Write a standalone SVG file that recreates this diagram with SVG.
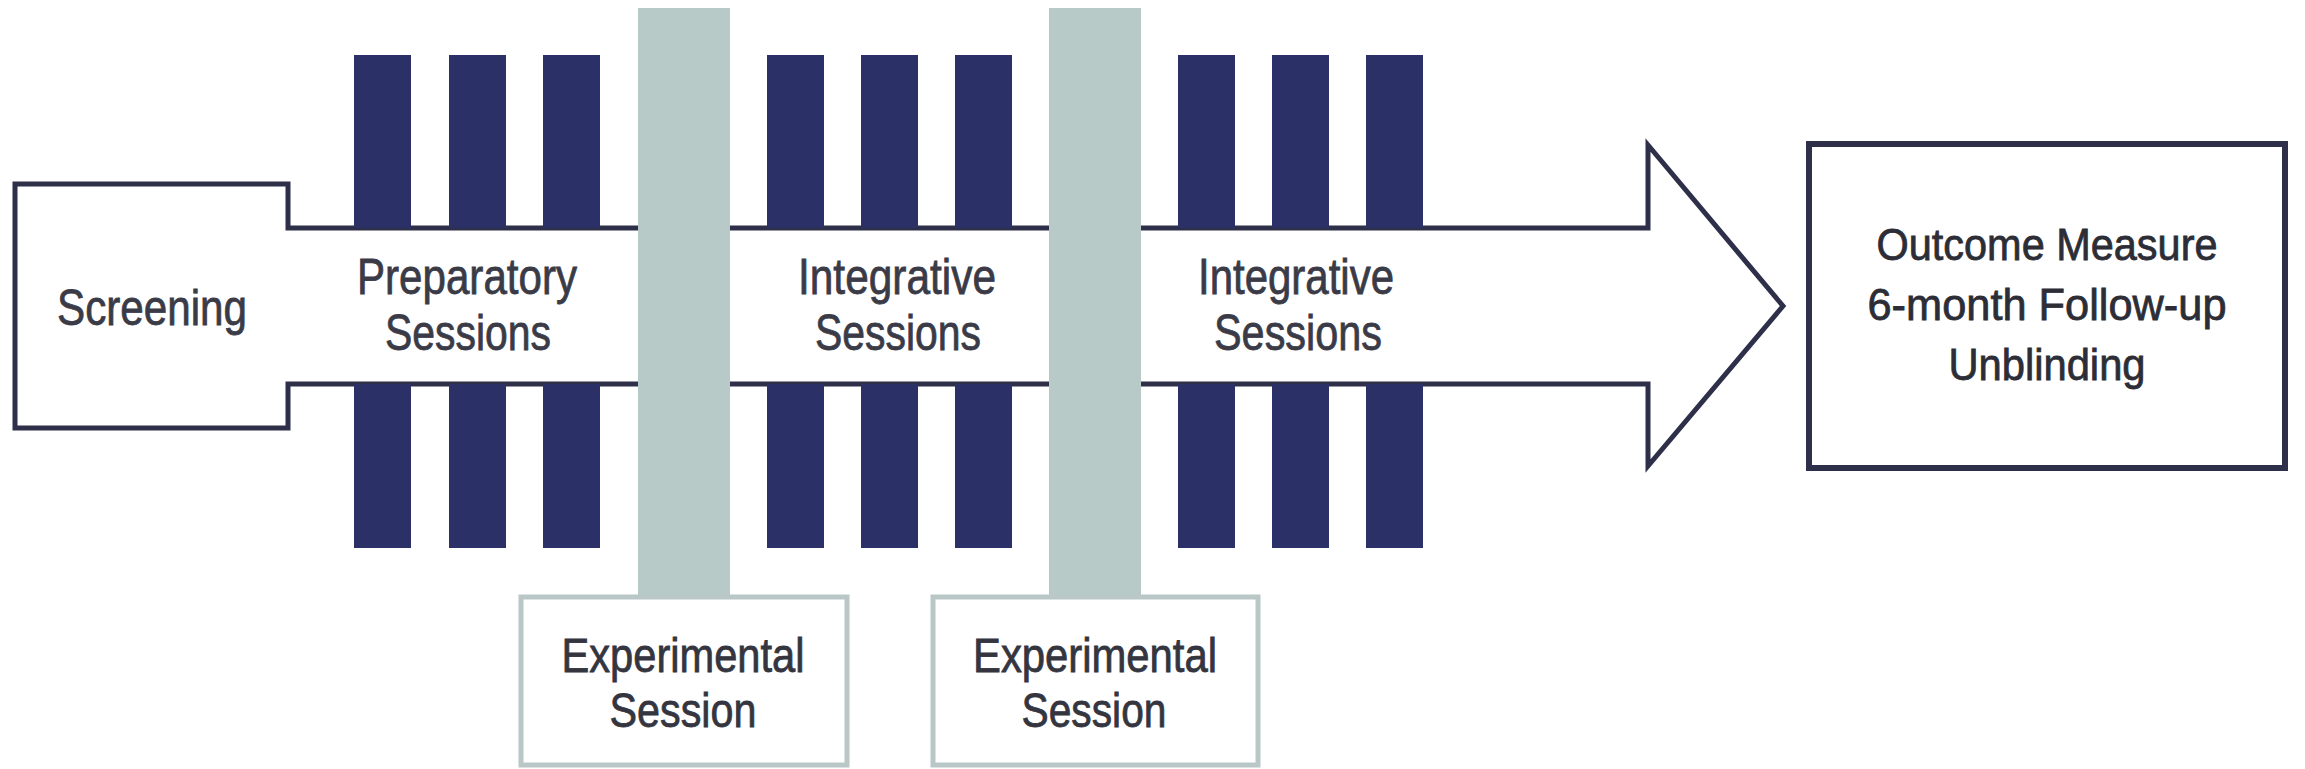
<svg xmlns="http://www.w3.org/2000/svg" width="2305" height="769" viewBox="0 0 2305 769">
<style>
.outline{fill:#ffffff;stroke:#2e3049;stroke-width:5;stroke-linejoin:miter}
.bar{fill:#2b3166}
.col{fill:#b8cac8}
.ebox{fill:#ffffff;stroke:#b9c8c6;stroke-width:5}
.obox{fill:#ffffff;stroke:#2e3049;stroke-width:6}
text{font-family:"Liberation Sans Narrow","Liberation Sans",Arial,sans-serif;text-anchor:middle;fill:#3a3b47;stroke:#3a3b47;stroke-width:0.8}
.lbl{font-size:50px}
.exp{font-size:48px;fill:#34353f;stroke:#34353f}
.out{font-family:"Liberation Sans",Arial,sans-serif;font-size:45px;fill:#2c2d36;stroke:#2c2d36}
</style>
<rect width="2305" height="769" fill="#ffffff"/>
<g id="connectors">
<path id="arrow" class="outline" d="M15,184 H288 V228 H1648 V145 L1783,306 L1648,466 V384 H288 V428 H15 Z"/>
</g>
<g id="preparatory-bars">
<rect class="bar" x="354" y="55" width="57" height="173"/>
<rect class="bar" x="449" y="55" width="57" height="173"/>
<rect class="bar" x="543" y="55" width="57" height="173"/>
<rect class="bar" x="354" y="384" width="57" height="164"/>
<rect class="bar" x="449" y="384" width="57" height="164"/>
<rect class="bar" x="543" y="384" width="57" height="164"/>
</g>
<g id="integrative-bars-1">
<rect class="bar" x="767" y="55" width="57" height="173"/>
<rect class="bar" x="861" y="55" width="57" height="173"/>
<rect class="bar" x="955" y="55" width="57" height="173"/>
<rect class="bar" x="767" y="384" width="57" height="164"/>
<rect class="bar" x="861" y="384" width="57" height="164"/>
<rect class="bar" x="955" y="384" width="57" height="164"/>
</g>
<g id="integrative-bars-2">
<rect class="bar" x="1178" y="55" width="57" height="173"/>
<rect class="bar" x="1272" y="55" width="57" height="173"/>
<rect class="bar" x="1366" y="55" width="57" height="173"/>
<rect class="bar" x="1178" y="384" width="57" height="164"/>
<rect class="bar" x="1272" y="384" width="57" height="164"/>
<rect class="bar" x="1366" y="384" width="57" height="164"/>
</g>
<g id="screening">
<text class="lbl" x="152" y="325" textLength="190" lengthAdjust="spacingAndGlyphs">Screening</text>
</g>
<g id="preparatory">
<text class="lbl" x="467" y="294" textLength="220" lengthAdjust="spacingAndGlyphs">Preparatory</text>
<text class="lbl" x="468" y="350" textLength="166" lengthAdjust="spacingAndGlyphs">Sessions</text>
</g>
<g id="integrative-1">
<text class="lbl" x="897" y="294" textLength="198" lengthAdjust="spacingAndGlyphs">Integrative</text>
<text class="lbl" x="898" y="350" textLength="166" lengthAdjust="spacingAndGlyphs">Sessions</text>
</g>
<g id="integrative-2">
<text class="lbl" x="1296" y="294" textLength="196" lengthAdjust="spacingAndGlyphs">Integrative</text>
<text class="lbl" x="1298" y="350" textLength="168" lengthAdjust="spacingAndGlyphs">Sessions</text>
</g>
<g id="experimental-1">
<rect class="col" x="638" y="8" width="92" height="589"/>
<rect class="ebox" x="521" y="597" width="326" height="168"/>
<text class="exp" x="683" y="672" textLength="243" lengthAdjust="spacingAndGlyphs">Experimental</text>
<text class="exp" x="683" y="727" textLength="147" lengthAdjust="spacingAndGlyphs">Session</text>
</g>
<g id="experimental-2">
<rect class="col" x="1049" y="8" width="92" height="589"/>
<rect class="ebox" x="933" y="597" width="325" height="168"/>
<text class="exp" x="1095" y="672" textLength="244" lengthAdjust="spacingAndGlyphs">Experimental</text>
<text class="exp" x="1094" y="727" textLength="145" lengthAdjust="spacingAndGlyphs">Session</text>
</g>
<g id="outcome">
<rect class="obox" x="1809" y="144" width="476" height="324"/>
<text class="out" x="2047" y="260" textLength="341" lengthAdjust="spacingAndGlyphs">Outcome Measure</text>
<text class="out" x="2047" y="320" textLength="359" lengthAdjust="spacingAndGlyphs">6-month Follow-up</text>
<text class="out" x="2047" y="380" textLength="197" lengthAdjust="spacingAndGlyphs">Unblinding</text>
</g>
</svg>
